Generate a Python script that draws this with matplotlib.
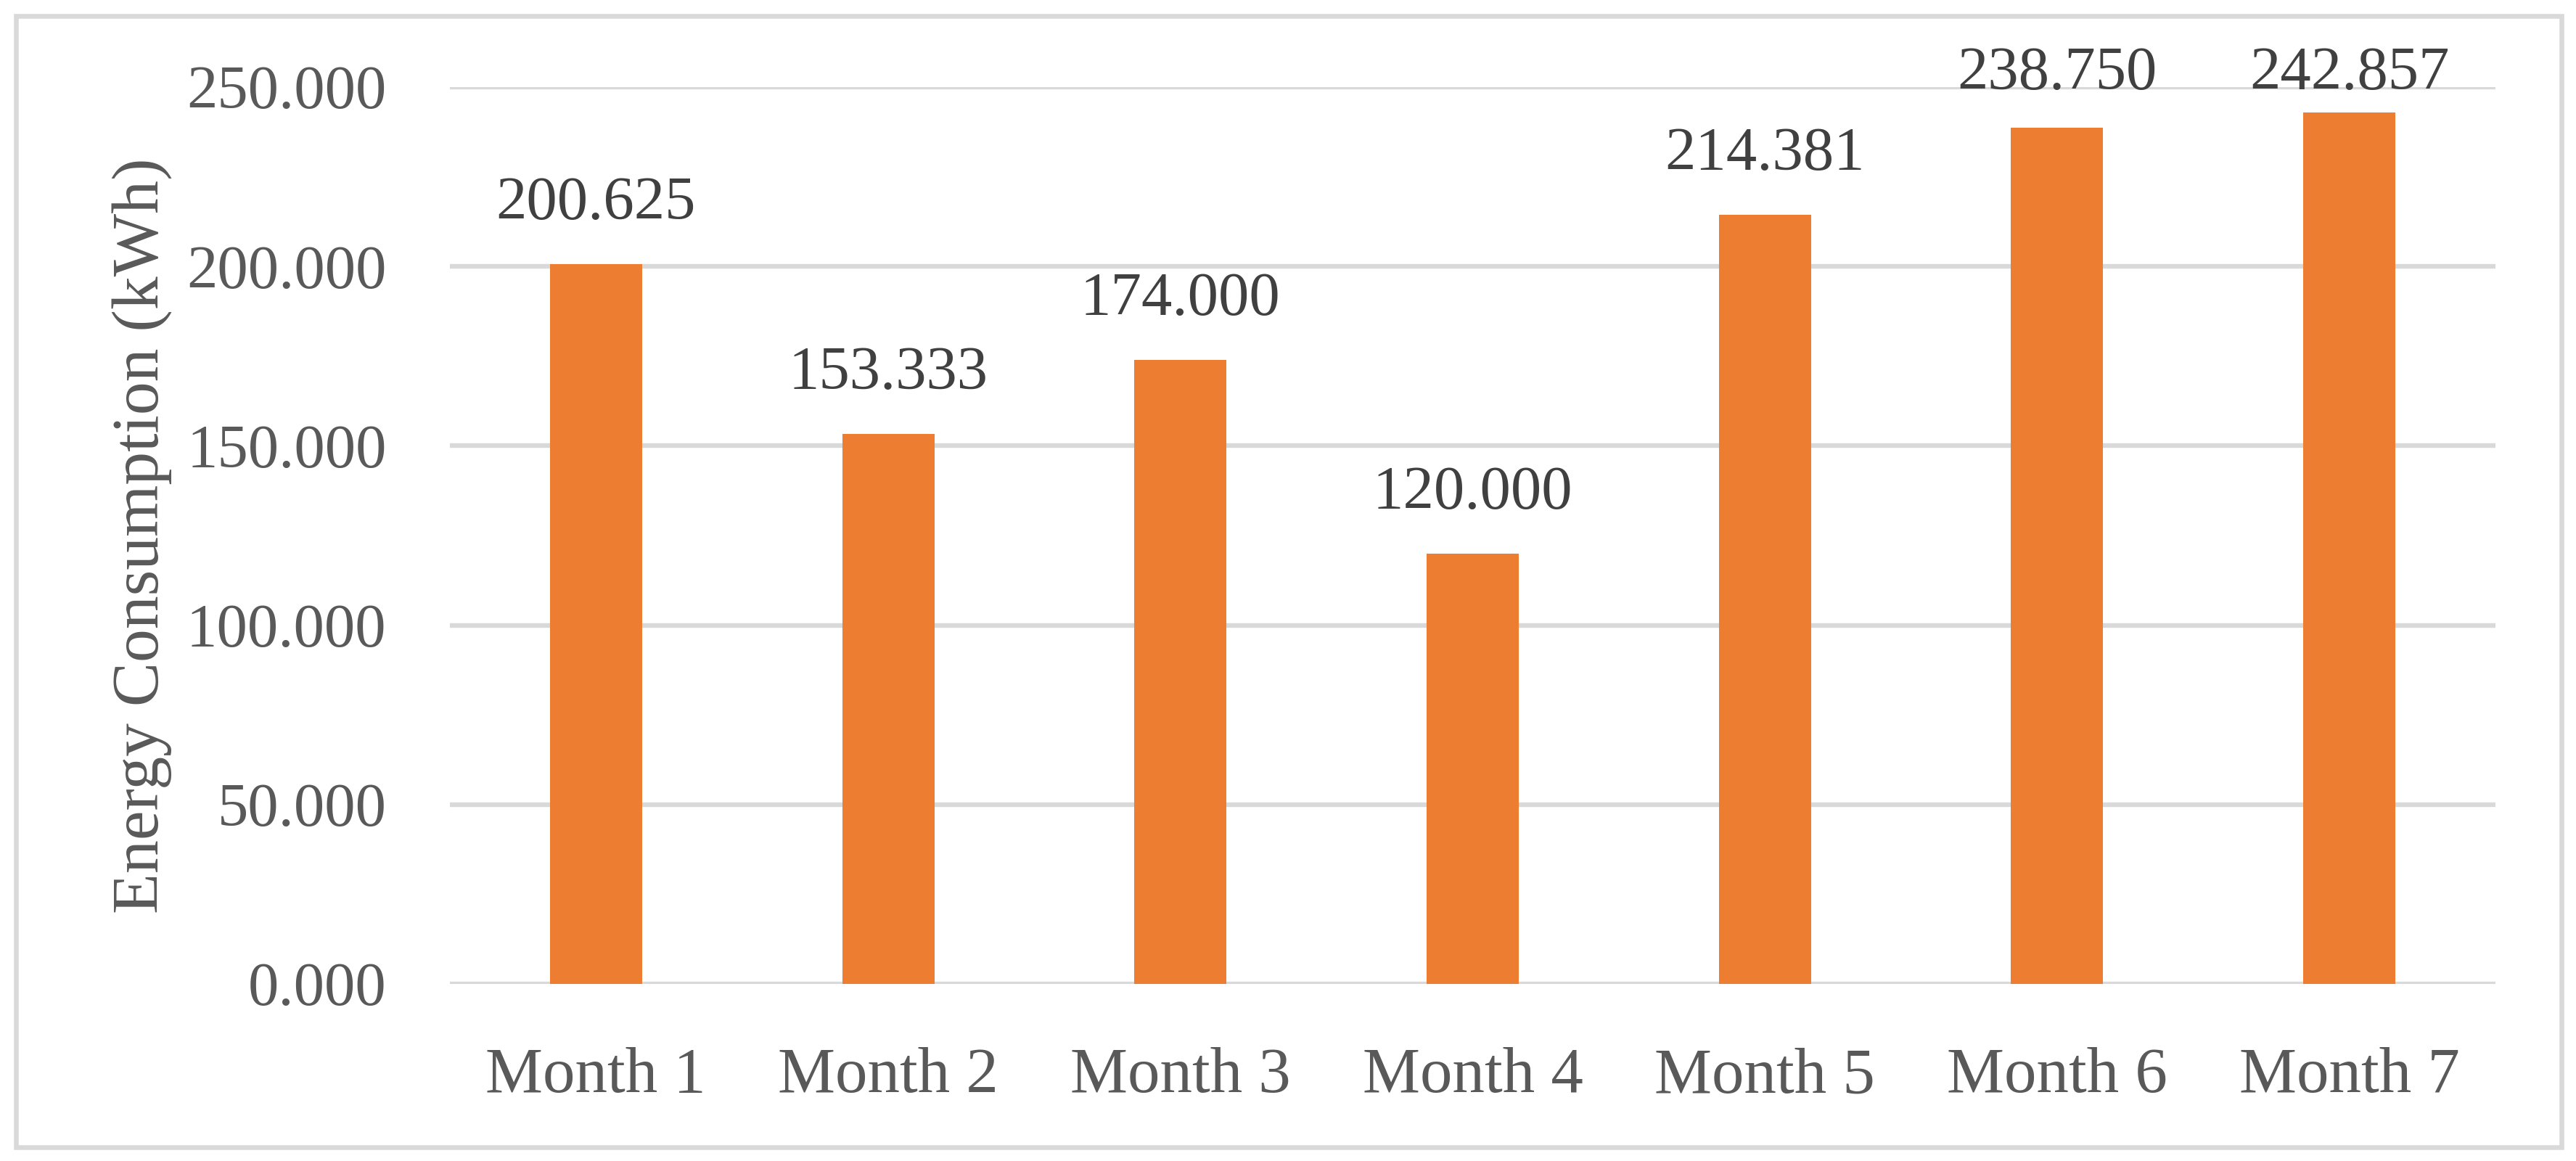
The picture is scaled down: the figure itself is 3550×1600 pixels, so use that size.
import matplotlib
matplotlib.use("Agg")
import matplotlib.pyplot as plt
from matplotlib.patches import Rectangle

# data
months = ['Month 1', 'Month 2', 'Month 3', 'Month 4', 'Month 5', 'Month 6', 'Month 7']
energy_kwh = [200.625, 153.333, 174.000, 120.000, 214.381, 238.750, 242.857]
y_ticks = [0, 50, 100, 150, 200, 250]

plt.rcParams['font.family'] = ['Liberation Serif', 'DejaVu Serif']

BAR = '#ED7D31'
GRID = '#D9D9D9'
TXT = '#595959'
LBL = '#404040'
FS = 61

fig = plt.figure(figsize=(35.5, 16), dpi=100)
ax = fig.add_axes([0.17465, 0.1525, 0.79408, 0.7725])

x = list(range(len(months)))
ax.bar(x, energy_kwh, width=0.315, color=BAR, zorder=3)

ax.set_xlim(-0.5, len(months) - 0.5)
ax.set_ylim(0, 250)
ax.set_yticks(y_ticks)
ax.set_yticklabels([f"{v:.3f}" for v in y_ticks])
ax.set_xticks(x)
ax.set_xticklabels(months)

ax.tick_params(axis='both', length=0, labelsize=FS, labelcolor=TXT, pad=63)
ax.tick_params(axis='x', labelsize=64)
ax.yaxis.grid(True, color=GRID, linewidth=4.6, zorder=0)
ax.set_axisbelow(True)
for s in ax.spines.values():
    s.set_visible(False)

ax.set_ylabel('Energy Consumption (kWh)', fontsize=66, color=TXT)
ax.yaxis.set_label_coords(-0.1359, 0.5)

# value labels above the bars, kept inside the chart at the top
for xi, v in zip(x, energy_kwh):
    ax.text(xi, min(v + 12.5, 249.4), f"{v:.3f}", ha='center', va='baseline',
            fontsize=FS, color=LBL, zorder=4)

# light grey chart border
fig.patches.append(Rectangle((0.0062, 0.0119), 0.98817, 0.97435,
                             transform=fig.transFigure, fill=False,
                             edgecolor=GRID, linewidth=4.7))

fig.savefig('out.png', dpi=100, facecolor='white')
